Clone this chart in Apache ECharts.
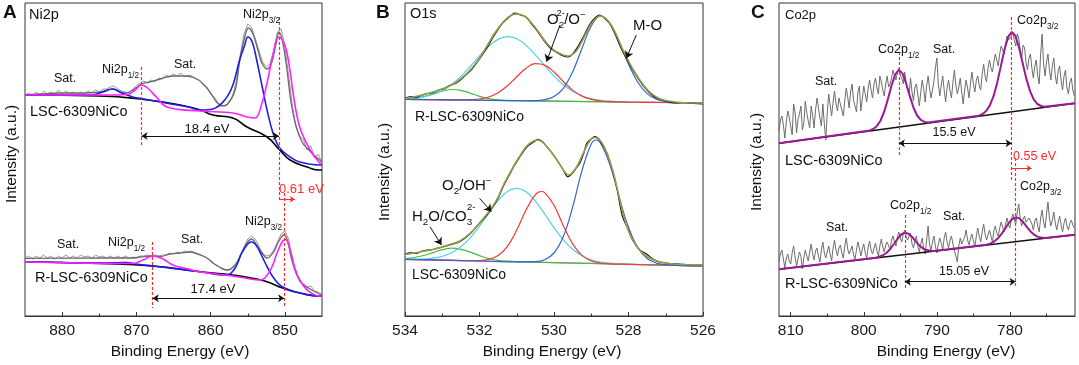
<!DOCTYPE html>
<html><head><meta charset="utf-8">
<script src="https://cdn.jsdelivr.net/npm/echarts@6/dist/echarts.min.js"></script>
<style>html,body{margin:0;padding:0;background:#fff}#c{width:1079px;height:365px}</style>
</head><body><div id="c"></div>
<script>
// ---------------- Panel A : Ni2p ----------------
const A_range = [845, 885];
const A_major = [880, 870, 860, 850];
const A_minor = [875, 865, 855];
// raw spectra sampled every 0.5 eV from 885 eV downwards
const A_upRaw = [221,223,220,224,221,225,222,224,221,226,222,225,222,224,221,224,222,225,223,226,
 224,227,227,229,230,227,225,224,223,227,230,233,235,233,236,234,238,237,241,239,
 242,240,243,239,241,240,237,236,231,229,222,219,213,211,210,214,221,236,262,282,
 292,289,278,266,254,249,252,266,284,287,270,241,211,189,180,176,166,170,158,162,153];
const A_loRaw = [58,60,57,60,58,61,58,60,57,60,58,61,58,60,58,61,59,60,58,61,
 59,60,58,60,58,60,58,60,58,59,58,60,60,61,60,61,60,61,61,63,
 62,64,63,65,64,65,63,62,60,58,56,52,50,47,46,46,49,53,60,69,
 77,80,77,70,63,60,61,66,74,82,85,77,58,43,34,32,29,30,25,24,21];
const A_upEnv = [[885,221],[883,222],[880.3,223],[877.6,223],[874.9,224],[873.2,227],[871.5,223],[870.5,226],[869.3,232],[868.2,234],[866.8,237],[865.1,240],[863.5,240],[862.1,238],[861,232],[860.1,224],[859.2,214],[858.5,210],[857.7,212],[856.7,226],[856.1,254],[855.4,279],[854.9,288],[854.3,282],[853.6,265],[853.1,253],[852.4,247],[851.8,253],[851.2,272],[850.8,284],[850.3,274],[849.7,245],[849.2,215],[848.5,190],[847.7,174],[846.9,167],[846.1,161],[845.3,156],[845,154]];
const A_upBlack = [[885,221],[875,220],[869.5,217],[864.1,211],[861.4,206],[859.7,201],[857,198],[855.1,189],[852.4,179],[850.7,166],[849.3,156],[847,149],[845.3,146],[845,146]];
const A_upBlue = [[885,221],[876,221],[874.5,224],[873.2,227],[872,223],[870.5,219],[869,217],[866,213],[863,209],[861.4,206],[859.7,207],[858.1,216],[857,231],[856.1,256],[855.4,271],[855,279],[854.4,274],[853.8,256],[853.1,231],[852.4,206],[851.6,183],[850.7,168],[849.3,159],[848,154],[845.3,151],[845,151]];
const A_upMag = [[885,221],[873,221],[871,222],[870.2,226],[869.3,231],[868.5,228],[867.3,219],[865.9,209],[861.4,205],[857,203],[855.1,199],[854,198],[853.2,210],[852.4,233],[851.6,261],[850.8,279],[850,271],[849.3,245],[848.9,223],[848,189],[846.6,166],[845.3,153],[845,152]];
const A_loEnv = [[885,57.7],[875,58],[870.5,58],[869.5,59],[867.8,60],[866.8,59.5],[865.5,62],[864.1,63],[862.8,64],[861.4,61],[860.5,58],[859.7,53],[858.8,49],[857.8,46],[856.7,51],[855.8,64],[855,74],[854.5,77],[853.8,71],[853.1,63],[852.4,58],[851.6,63],[850.8,75],[850.1,81],[849.6,74],[849.1,57],[848.4,41],[847.6,32],[846.6,27],[845.6,23],[845,21]];
const A_loBlack = [[885,54.3],[875,52.5],[867.8,50],[861.4,44.3],[857,41],[854.5,38],[852.4,34.3],[850.3,28],[848,23],[845.3,20],[845,20]];
const A_loBlue = [[885,54.3],[874,53],[872.5,53.3],[871.3,53.5],[870,52],[867.8,50],[861.4,44.3],[858.5,41],[857.8,41],[856.7,48],[855.8,63],[855,72],[854.5,74],[853.8,70],[853.1,60],[852.3,48],[851.4,37],[850.3,29],[848,23],[845.3,20],[845,20]];
const A_loMag = [[885,54.3],[872.2,52.5],[870.5,52.5],[869.1,56],[867.8,60],[866.4,57],[865.1,51],[863,47],[861.4,44],[857,40],[854.7,37],[853.4,36],[852.7,38],[851.8,48],[851,64],[850.3,75],[849.9,76.5],[849.3,66],[848.7,49],[848,36],[847,26],[845.3,20],[845,20]];
const A_dash = [[[869.3,249],[869.3,171]],[[850.8,299],[850.8,116]],[[850.1,123],[850.1,8]],[[867.8,74],[867.8,8]]];
const A_arrows = [[[869.3,180],[850.8,180]],[[867.8,17.7],[850.1,17.7]]];
const A_redArrow = [[[850.8,116.7],[848.66,116.7]]];

// ---------------- Panel B : O1s ----------------
const B_range = [526, 534];
const B_major = [534, 532, 530, 528, 526];
const B_minor = [533, 531, 529, 527];
const B_upRaw = [[534,218],[533.85,219.5],[533.7,218.8],[533.55,220.8],[533.4,222.5],[533.25,223.2],[533.1,226],[532.95,227.5],[532.8,230.5],[532.6,233.5],[532.4,240],[532.2,247],[532.0,257],[531.8,268],[531.6,281],[531.4,292],[531.2,299],[531.05,303],[530.9,301],[530.75,299],[530.6,292],[530.45,285],[530.3,277],[530.1,268],[529.9,263],[529.75,260],[529.63,259],[529.5,262],[529.35,270],[529.2,280],[529.05,291],[528.9,298],[528.78,301],[528.65,298],[528.5,292],[528.35,281],[528.2,268],[528.05,257],[527.9,247],[527.75,238],[527.6,230],[527.43,223],[527.25,218],[527.0,215],[526.75,213],[526.5,213.5],[526.25,212.5],[526,212]];
const B_upFit = [[534,217.5],[533.6,220.5],[533.2,224.5],[532.8,230],[532.6,234.5],[532.4,240.5],[532.2,248],[532.0,258],[531.8,270],[531.6,282.5],[531.4,292.5],[531.2,299.5],[531.0,302],[530.8,300],[530.6,293],[530.45,286],[530.3,278],[530.1,269],[529.9,263.5],[529.63,260],[529.45,263],[529.3,271],[529.15,282],[529.0,292],[528.85,298.5],[528.75,300],[528.6,297],[528.45,290],[528.3,279],[528.15,266],[528.0,255],[527.8,242],[527.6,231],[527.4,223],[527.2,218],[527,215.5],[526.6,213.5],[526,213]];
const B_upBase = [[534,216.7],[526,213]];
const B_upGreen = [[534,217.1],[533.75,217.8],[533.5,219.4],[533.25,222.1],[533,225.0],[532.75,226.5],[532.5,225.7],[532.25,222.9],[532,219.7],[531.75,217.4],[531.5,216.1],[531.25,215.6],[531,215.3],[530,214.9],[528,213.9],[526,213]];
const B_upCyan = [[534,217.3],[533.75,217.9],[533.5,219.2],[533.25,221.5],[533,225.4],[532.75,231.4],[532.5,239.6],[532.25,249.5],[532,260.1],[531.75,269.8],[531.5,276.6],[531.25,279.3],[531,277.2],[530.75,270.6],[530.5,261.1],[530.25,250.3],[530,240.0],[529.75,231.2],[529.5,224.7],[529.25,220.2],[529,217.4],[528.75,215.7],[528.5,214.8],[528.25,214.2],[528,213.9],[527,213.5],[526,213]];
const B_upRed = [[534,216.7],[533,216.2],[532.5,216.1],[532.25,216.3],[532,217.0],[531.75,219.0],[531.5,223.2],[531.25,230.2],[531,239.3],[530.75,247.8],[530.5,252.4],[530.25,250.9],[530,244.0],[529.75,234.5],[529.5,225.9],[529.25,219.9],[529,216.6],[528.75,215.0],[528.5,214.4],[528,213.9],[527,213.5],[526,213]];
const B_upBlue = [[534,216.7],[532,215.8],[531,215.3],[530.5,215.4],[530.25,216.3],[530,219.4],[529.75,227.7],[529.5,244.1],[529.25,267.5],[529,290.0],[528.75,300.0],[528.5,292.9],[528.25,274.0],[528,251.9],[527.75,233.8],[527.5,222.4],[527.25,216.8],[527,214.4],[526.75,213.5],[526.5,213.2],[526,213]];
const B_loRaw = [[534,62],[533.85,63.2],[533.7,62.5],[533.55,64.8],[533.4,66],[533.25,66.5],[533.14,67.7],[533,69],[532.8,71],[532.53,74.3],[532.26,82],[532.0,92.7],[531.8,101],[531.64,109],[531.5,118],[531.37,129],[531.2,141],[531.1,148],[530.9,160],[530.73,169],[530.55,174],[530.43,176.7],[530.3,174],[530.19,169],[530.05,163],[529.92,156],[529.75,146],[529.63,139.3],[529.5,143],[529.4,148],[529.31,152.7],[529.2,163],[529.12,172.7],[529.0,177],[528.91,179.3],[528.8,177],[528.7,171],[528.58,163],[528.45,148],[528.32,129.3],[528.16,99.3],[528.0,86],[527.89,76],[527.7,66],[527.52,62],[527.3,56],[527.16,54],[526.9,52.5],[526.63,52],[526.3,51],[526,51]];
const B_loFit = [[534,61.5],[533.6,64],[533.2,67],[532.8,71.5],[532.53,75],[532.26,82.5],[532.0,93],[531.8,102],[531.64,110],[531.5,119],[531.37,130],[531.2,142],[531.05,152],[530.9,161],[530.73,170],[530.55,175],[530.43,176],[530.3,173.5],[530.15,167.5],[530.0,160],[529.85,152],[529.7,143.5],[529.6,141],[529.48,144.5],[529.35,152],[529.2,164],[529.05,174.5],[528.92,178.5],[528.8,177],[528.68,171],[528.55,160],[528.42,145],[528.3,127],[528.15,103],[528.0,85],[527.85,74],[527.7,66],[527.5,59.5],[527.25,55],[527,53],[526.6,51.5],[526,51]];
const B_loBase = [[534,56.7],[526,50]];
const B_loGreen = [[534,57.4],[533.75,58.5],[533.5,60.5],[533.25,63.4],[533,66.3],[532.75,67.8],[532.5,66.7],[532.25,63.9],[532,60.4],[531.75,57.5],[531.5,55.7],[531.25,54.8],[531,54.3],[530,53.4],[528,51.7],[526,50]];
const B_loCyan = [[534,56.8],[533.5,57.0],[533.25,57.8],[533,59.7],[532.75,63.2],[532.5,69.2],[532.25,78.2],[532,89.9],[531.75,103.2],[531.5,115.6],[531.25,124.6],[531,127.7],[530.75,124.2],[530.5,114.8],[530.25,102.0],[530,88.3],[529.75,76.1],[529.5,66.7],[529.25,60.2],[529,56.3],[528.75,54.0],[528.5,52.8],[528.25,52.2],[528,51.8],[527,50.8],[526,50]];
const B_loRed = [[534,56.7],[533,55.9],[532.25,55.3],[532,55.4],[531.75,56.6],[531.5,60.5],[531.25,69.7],[531,85.9],[530.75,106.0],[530.5,121.4],[530.34,124.5],[530.25,123.4],[530,110.7],[529.75,90.3],[529.5,72.1],[529.25,60.6],[529,55.1],[528.75,53.0],[528.5,52.2],[528,51.7],[527,50.8],[526,50]];
const B_loBlue = [[534,56.7],[532,55.0],[531,54.2],[530.5,54.4],[530.25,56.3],[530,63.0],[529.75,79.4],[529.5,108.8],[529.25,145.3],[529,172.0],[528.87,176.0],[528.75,173.1],[528.5,151.5],[528.25,118.9],[528,88.7],[527.75,68.2],[527.5,57.5],[527.25,52.9],[527,51.3],[526.75,50.6],[526,50]];
const B_arrows = [[[529.84,291],[530.2,254.3]],[[527.79,281],[528.06,257.7]],[[532.0,117.7],[531.68,104.3]],[[533.33,89.3],[533.02,71]]];

// ---------------- Panel C : Co2p ----------------
const C_range = [771.1, 811.6];
const C_major = [810, 800, 790, 780];
const C_minor = [805, 795, 785, 775];
// raw spectra sampled every 0.2 eV from 811.6 eV downwards
const C_upRaw = [185,196,200,191,178,194,205,199,190,181,212,204,183,197,202,210,186,193,215,203,
 195,188,210,201,188,206,218,208,198,190,212,192,176,203,222,211,200,214,225,212,
 205,218,220,206,200,215,228,219,208,224,232,216,210,204,224,230,205,217,230,222,
 214,228,236,226,218,232,238,228,222,240,234,226,220,232,240,229,232,238,246,240,
 236,243,248,241,238,232,244,233,226,222,238,224,215,229,232,221,210,224,236,227,
 214,230,240,228,218,226,235,248,258,232,220,231,240,226,214,228,236,225,218,234,
 246,231,222,229,238,224,212,226,236,228,218,233,244,232,224,236,240,230,226,242,
 252,240,234,248,256,248,244,254,262,256,250,262,270,266,262,272,280,276,274,280,
 284,276,270,282,278,266,258,271,268,254,246,258,262,248,238,250,256,240,232,262,
 282,252,240,254,262,246,236,250,258,240,232,245,250,236,226,240,246,228,222,234,
 238,226,220];
const C_loRaw = [55,62,66,57,48,58,62,55,52,63,70,59,50,57,64,60,47,58,66,60,
 55,64,72,62,56,65,68,60,54,66,74,63,58,64,70,62,55,68,76,66,
 60,68,71,63,58,70,78,67,62,64,70,61,57,66,74,68,60,67,72,63,
 58,69,75,66,62,68,73,65,60,70,77,69,64,71,74,70,66,76,80,74,
 70,79,84,78,74,82,86,79,76,80,83,72,68,75,80,70,64,72,78,67,
 62,76,90,71,66,74,80,70,63,72,78,73,66,78,84,74,68,76,80,72,
 65,60,54,70,78,72,70,79,86,76,71,78,82,75,69,80,88,80,74,84,
 92,82,76,81,86,80,74,85,90,83,80,88,94,89,84,92,98,91,88,97,
 102,96,92,104,112,98,90,97,100,94,92,98,100,92,86,95,98,90,84,98,
 106,94,88,102,114,98,90,96,104,93,86,94,100,91,84,93,98,90,86,93,
 96,91,88];
const C_upBase = [[811.6,172.7],[771.1,212.7]];
const C_loBase = [[811.6,46.7],[771.1,81.2]];
const C_upFit = [[811.6,172.7],[799.2,185.6],[798.7,187.1],[798.2,190.1],[797.7,195.5],[797.2,204.5],[796.7,216.9],[796.2,230.5],[795.7,241.6],[795.2,246.1],[794.7,242.6],[794.2,232.5],[793.7,219.9],[793.2,208.5],[792.7,200.5],[792.2,196.1],[791.7,194.1],[791.2,193.6],[784.25,200.3],[783.75,202.0],[783.25,205.0],[782.75,210.6],[782.25,219.8],[781.75,233.1],[781.25,249.6],[780.75,266.2],[780.25,279.1],[779.75,284.2],[779.25,280.1],[778.75,268.2],[778.25,252.6],[777.75,237.1],[777.25,224.8],[776.75,216.6],[776.25,212.0],[775.75,210.0],[775.25,209.3],[771.1,212.7]];
const C_loFit = [[811.6,46.7],[798.38,58.3],[797.88,59.2],[797.38,60.7],[796.88,63.3],[796.38,67.0],[795.88,72.0],[795.38,77.2],[794.88,81.5],[794.38,83.4],[793.88,82.3],[793.38,79.0],[792.88,74.6],[792.38,70.4],[791.88,67.5],[791.38,65.9],[790.88,65.2],[790.38,65.1],[783.22,71.3],[782.72,72.4],[782.22,74.2],[781.72,77.2],[781.22,81.4],[780.72,86.7],[780.22,92.3],[779.72,96.8],[779.22,98.7],[778.72,97.6],[778.22,94.1],[777.72,89.3],[777.22,84.8],[776.72,81.4],[776.22,79.4],[775.72,78.4],[775.22,78.1],[771.1,81.2]];
const C_dash = [[[795.2,264],[795.2,159]],[[779.77,299],[779.77,136]],[[794.38,101],[794.38,26]],[[779.22,158],[779.22,29]]];
const C_arrows = [[[795.2,172.7],[779.77,172.7]],[[794.38,34.3],[779.22,34.3]]];
const C_redArrow = [[[779.77,147.7],[777.03,147.7]]];

// ---------------- build ----------------
const FONT = '"Liberation Sans", Arial, Helvetica, sans-serif';
const RED = '#ff2a2a';
const onGrid = (start, step, arr) => arr.map((v, i) => [+(start - step * i).toFixed(2), v]);

function xAxes(g, range, major, minor) {
  return [
    {gridIndex: g, type: 'value', inverse: true, min: range[0], max: range[1],
     axisLine: {show: true, onZero: false, lineStyle: {color: '#333', width: 1}},
     axisTick: {show: true, inside: true, length: 4, customValues: major, lineStyle: {color: '#333'}},
     axisLabel: {show: true, customValues: major, fontSize: 15.5, color: '#1a1a1a', fontFamily: FONT, margin: 7},
     splitLine: {show: false}},
    {gridIndex: g, type: 'value', inverse: true, min: range[0], max: range[1], position: 'bottom',
     axisLine: {show: false},
     axisTick: {show: true, inside: true, length: 2.5, customValues: minor, lineStyle: {color: '#333'}},
     axisLabel: {show: false}, splitLine: {show: false}}
  ];
}
function L(g, data, color, width, smooth, z) {
  return {type: 'line', xAxisIndex: g * 2, yAxisIndex: g, data, symbol: 'none', showSymbol: false,
    smooth: smooth || false, lineStyle: {color, width}, silent: true, animation: false, z: z || 2};
}
function seg(g, list, color, width, symbol, dashed, size) {
  return {type: 'lines', coordinateSystem: 'cartesian2d', xAxisIndex: g * 2, yAxisIndex: g,
    symbol, symbolSize: size || 6,
    lineStyle: {color, width, type: dashed ? [3, 2] : 'solid', opacity: 1, curveness: 0},
    data: list.map(c => ({coords: c})), silent: true, animation: false, z: 6};
}
function T(x, y, text, size, opt) {
  return {type: 'text', x, y, z: 100, silent: true,
    style: Object.assign({text, fontSize: size, fontFamily: FONT, fill: '#111', align: 'left', verticalAlign: 'middle'}, opt || {})};
}
function S(x, y, main, sub, size, sup) {
  const r = {m: {fontSize: size, fontFamily: FONT, lineHeight: 20, fill: '#111'},
             s: {fontSize: size * 0.66, fontFamily: FONT, lineHeight: 8, verticalAlign: 'bottom', fill: '#111'},
             p: {fontSize: size * 0.66, fontFamily: FONT, lineHeight: 8, verticalAlign: 'top', fill: '#111'}};
  let txt = '{m|' + main + '}{s|' + sub + '}';
  if (sup) txt = sup;
  return {type: 'text', x, y, z: 100, silent: true,
    style: {text: txt, align: 'left', verticalAlign: 'middle', fill: '#111', rich: r}};
}
function rich(x, y, txt, size) { return S(x, y, '', '', size, txt); }

const series = [
  // A upper
  L(0, onGrid(885, 0.5, A_upRaw), '#9a9a9a', 1),
  L(0, A_upEnv, '#6a6a6a', 1.3, 0.4),
  L(0, A_upBlack, '#000', 1.6, 0.5, 3),
  L(0, A_upBlue, '#1e1ee6', 1.6, 0.4, 3),
  L(0, A_upMag, '#ff22ff', 1.6, 0.4, 4),
  // A lower
  L(0, onGrid(885, 0.5, A_loRaw), '#9a9a9a', 1),
  L(0, A_loEnv, '#6a6a6a', 1.3, 0.4),
  L(0, A_loBlack, '#000', 1.6, 0.5, 3),
  L(0, A_loBlue, '#1e1ee6', 1.6, 0.4, 3),
  L(0, A_loMag, '#ff22ff', 1.6, 0.4, 4),
  seg(0, A_dash, RED, 1.2, 'none', true),
  seg(0, A_arrows, '#111', 1, ['arrow', 'arrow'], false, 6),
  seg(0, A_redArrow, RED, 1, ['none', 'arrow'], false, 5),
  // B upper
  L(1, B_upBase, '#e06ad2', 1.2),
  L(1, B_upGreen, '#3cbf3c', 1.2, 0.4),
  L(1, B_upCyan, '#4fd3e3', 1.2, 0.4),
  L(1, B_upRed, '#ff3535', 1.2, 0.4),
  L(1, B_upBlue, '#2f68cc', 1.2, 0.4),
  L(1, B_upRaw, '#111', 1.2, 0.3, 3),
  L(1, B_upFit, '#9b9b4c', 1.6, 0.4, 4),
  // B lower
  L(1, B_loBase, '#e06ad2', 1.2),
  L(1, B_loGreen, '#3cbf3c', 1.2, 0.4),
  L(1, B_loCyan, '#4fd3e3', 1.2, 0.4),
  L(1, B_loRed, '#ff3535', 1.2, 0.4),
  L(1, B_loBlue, '#2f68cc', 1.2, 0.4),
  L(1, B_loRaw, '#111', 1.2, 0.3, 3),
  L(1, B_loFit, '#9b9b4c', 1.6, 0.4, 4),
  seg(1, B_arrows, '#111', 1, ['none', 'arrow'], false, 7),
  // C
  L(2, onGrid(811.6, 0.2, C_upRaw), '#6e6e6e', 1),
  L(2, onGrid(811.6, 0.2, C_loRaw), '#6e6e6e', 1),
  L(2, C_upBase, '#111', 1.4, false, 3),
  L(2, C_loBase, '#111', 1.4, false, 3),
  L(2, C_upFit, '#9c1a90', 2, false, 4),
  L(2, C_loFit, '#9c1a90', 2, false, 4),
  seg(2, C_dash, RED, 1.2, 'none', true),
  seg(2, C_arrows, '#111', 1, ['arrow', 'arrow'], false, 6),
  seg(2, C_redArrow, RED, 1, ['none', 'arrow'], false, 5)
];

const graphics = [
  T(3, 13, 'A', 19, {fontWeight: 'bold'}),
  T(376, 13, 'B', 19, {fontWeight: 'bold'}),
  T(751, 13, 'C', 19, {fontWeight: 'bold'}),
  // A
  T(29, 15, 'Ni2p', 14.5),
  T(65, 79, 'Sat.', 12.5, {align: 'center'}),
  S(102, 70, 'Ni2p', '1/2', 12.5),
  T(185, 65, 'Sat.', 12.5, {align: 'center'}),
  S(243, 15, 'Ni2p', '3/2', 12.5),
  T(30, 112, 'LSC-6309NiCo', 14.5),
  T(207, 129, '18.4 eV', 13, {align: 'center'}),
  T(68, 245, 'Sat.', 12.5, {align: 'center'}),
  S(108, 243, 'Ni2p', '1/2', 12.5),
  T(192, 240, 'Sat.', 12.5, {align: 'center'}),
  S(245, 222, 'Ni2p', '3/2', 12.5),
  T(35, 278, 'R-LSC-6309NiCo', 14.5),
  T(213, 289, '17.4 eV', 13, {align: 'center'}),
  T(279, 189, '0.61 eV', 13, {fill: RED}),
  T(12, 154, 'Intensity (a.u.)', 15.5, {align: 'center'}),
  T(180, 352, 'Binding Energy (eV)', 15.5, {align: 'center'}),
  // B
  T(410, 14, 'O1s', 14.5),
  rich(547, 20, '{m|O}{s|2}{m|/O}{p|\u2212}', 15),
  T(556.5, 13, '2-', 9.5),
  T(633, 26, 'M-O', 15),
  T(415, 117, 'R-LSC-6309NiCo', 14),
  rich(442, 186, '{m|O}{s|2}{m|/OH}{p|\u2212}', 15),
  rich(412, 217, '{m|H}{s|2}{m|O/CO}{s|3}', 15),
  T(467, 207, '2-', 9.5),
  T(412, 275, 'LSC-6309NiCo', 14),
  T(385, 172, 'Intensity (a.u.)', 15.5, {align: 'center'}),
  T(552, 352, 'Binding Energy (eV)', 15.5, {align: 'center'}),
  // C
  T(785, 15, 'Co2p', 13),
  T(826, 82, 'Sat.', 12.5, {align: 'center'}),
  S(878, 50, 'Co2p', '1/2', 12.5),
  T(944, 50, 'Sat.', 12.5, {align: 'center'}),
  S(1017, 21, 'Co2p', '3/2', 12.5),
  T(785, 161, 'LSC-6309NiCo', 14.5),
  T(954, 133, '15.5 eV', 12.5, {align: 'center'}),
  T(1013, 157, '0.55 eV', 12.5, {fill: RED}),
  T(837, 228, 'Sat.', 12.5, {align: 'center'}),
  S(890, 206, 'Co2p', '1/2', 12.5),
  T(954, 217, 'Sat.', 12.5, {align: 'center'}),
  S(1020, 187, 'Co2p', '3/2', 12.5),
  T(785, 284, 'R-LSC-6309NiCo', 14.5),
  T(964, 272, '15.05 eV', 12.5, {align: 'center'}),
  T(757, 162, 'Intensity (a.u.)', 15.5, {align: 'center'}),
  T(946, 352, 'Binding Energy (eV)', 15.5, {align: 'center'})
];
// rotate the y-axis titles
graphics.forEach(g => { if (g.style.text === 'Intensity (a.u.)') g.rotation = Math.PI / 2; });

const gridBox = (left, width) => ({left, top: 3, width, height: 313, show: true, borderColor: '#333', borderWidth: 1, backgroundColor: 'transparent'});
const option = {
  animation: false,
  backgroundColor: '#fff',
  grid: [gridBox(25, 297), gridBox(405, 298), gridBox(779, 296)],
  xAxis: [].concat(xAxes(0, A_range, A_major, A_minor), xAxes(1, B_range, B_major, B_minor), xAxes(2, C_range, C_major, C_minor)),
  yAxis: [0, 1, 2].map(g => ({gridIndex: g, type: 'value', min: 0, max: 313, show: false})),
  series,
  graphic: {elements: graphics}
};
const chart = echarts.init(document.getElementById('c'), null, {renderer: 'canvas'});
chart.setOption(option);
</script></body></html>
